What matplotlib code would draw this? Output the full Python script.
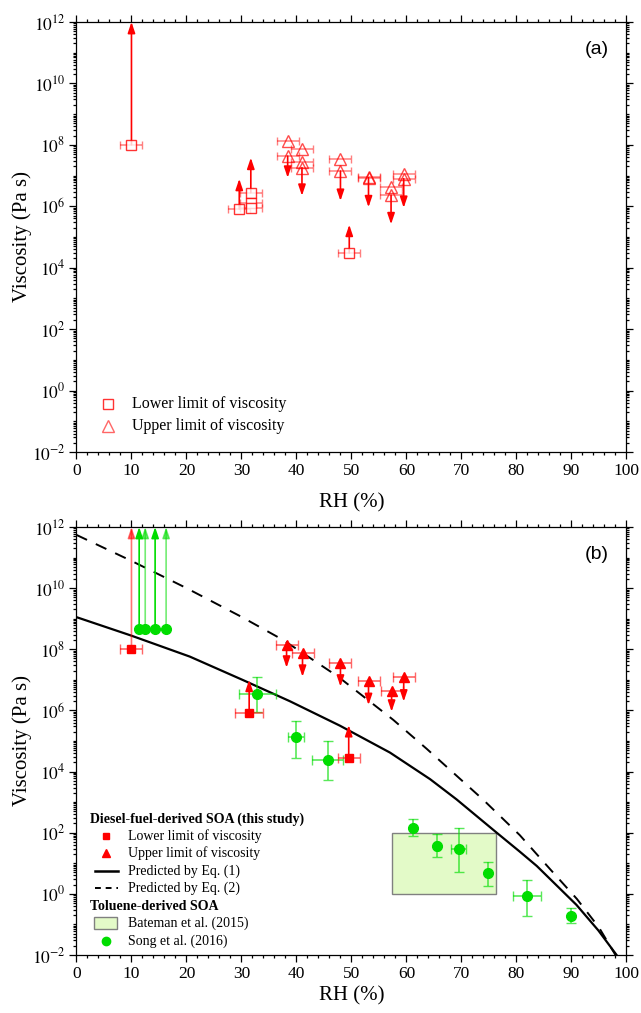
"""
Viscosity of diesel-fuel-derived SOA versus RH, two stacked panels.
"""

import numpy as np
import matplotlib
matplotlib.use("Agg")
import matplotlib.pyplot as plt
from matplotlib.ticker import FixedLocator, FuncFormatter
from matplotlib.patches import Rectangle
from matplotlib.lines import Line2D

plt.rcParams["font.family"] = ["Liberation Serif", "DejaVu Serif"]
plt.rcParams["mathtext.fontset"] = "stix"

RED = "#ff0000"
GREEN = "#00dd00"

# ---- panel (a) ----
a_low_rh = [10.0, 29.6, 31.7, 31.7, 31.7, 49.6]
a_low_v = [1.0e8, 8.1e5, 2.75e6, 1.3e6, 8.5e5, 3.0e4]
a_low_xerr = [2.0, 2.0, 2.0, 2.0, 2.0, 2.0]
a_low_arrow_rh = [10.0, 29.6, 31.7, 49.6]
a_low_arrow_from = [1.0e8, 8.1e5, 2.75e6, 3.0e4]
a_low_arrow_to = [1.0e12, 7.8e6, 3.8e7, 2.5e5]

a_up_rh = [38.4, 38.4, 41.0, 41.0, 41.0, 48.0, 48.0, 53.1, 53.1, 57.2, 57.2, 59.5, 59.5]
a_up_v = [1.35e8, 4.3e7, 7.1e7, 2.8e7, 1.8e7, 3.5e7, 1.4e7, 9.1e6, 8.5e6,
          4.4e6, 2.3e6, 1.1e7, 7.9e6]
a_up_xerr = [2.0] * 13
a_up_arrow_rh = [38.4, 41.0, 48.0, 53.1, 57.2, 59.5]
a_up_arrow_from = [4.3e7, 1.8e7, 1.4e7, 8.5e6, 2.3e6, 7.9e6]
a_up_arrow_to = [8.5e6, 2.2e6, 1.5e6, 9.3e5, 2.6e5, 8.9e5]

# ---- panel (b) ----
b_low_rh = [10.0, 31.4, 49.5]
b_low_v = [1.0e8, 8.5e5, 2.7e4]
b_low_xerr = [2.0, 2.5, 2.0]
b_low_arrow_to = [1.0e12, 1.0e7, 3.3e5]

b_up_rh = [38.2, 41.1, 48.0, 53.1, 57.3, 59.5]
b_up_v = [1.38e8, 7.4e7, 3.6e7, 9.3e6, 4.4e6, 1.2e7]
b_up_xerr = [2.0, 2.0, 2.0, 2.0, 2.0, 2.0]
b_up_arrow_to = [2.5e7, 1.26e7, 6.0e6, 1.5e6, 9.1e5, 1.95e6]

song_arrow_rh = [11.4, 12.5, 14.3, 16.3]
song_arrow_v = [4.5e8, 4.5e8, 4.5e8, 4.5e8]
song_arrow_to = [1.0e12, 1.0e12, 1.0e12, 1.0e12]
song_arrow_alpha = [1.0, 0.55, 1.0, 0.55]

song_rh = [32.9, 39.9, 45.7, 61.2, 65.5, 69.5, 74.9, 81.9, 90.0]
song_v = [3.5e6, 1.3e5, 2.4e4, 138, 36, 29, 4.9, 0.85, 0.195]
song_lo = [8.9e5, 2.7e4, 5.2e3, 78, 16, 5.2, 1.8, 0.19, 0.115]
song_hi = [1.2e7, 4.5e5, 1.0e5, 280, 89, 138, 11, 2.8, 0.34]
song_xerr = [3.4, 1.4, 2.8, 0.0, 0.4, 1.4, 0.0, 2.5, 0.0]

bateman_rh = [57.3, 76.3]
bateman_v = [1.0, 100.0]

# curves (log10 of viscosity)
eq1_rh = [0, 9.9, 20.6, 30.3, 38.8, 47.9, 57.0, 64.3, 69.1, 76.4, 80.6, 83.7,
          90.9, 94.9, 98.2]
eq1_logv = [9.05, 8.45, 7.76, 6.99, 6.30, 5.50, 4.62, 3.75, 3.09, 2.0, 1.38, 0.91,
            -0.36, -1.20, -2.0]
eq2_rh = [0, 10, 20, 30, 37.6, 47.6, 57.6, 63.7, 74.0, 80.6, 85.5, 91.0, 95.0, 98.0]
eq2_logv = [11.74, 10.89, 10.0, 9.06, 8.30, 7.10, 5.69, 4.74, 3.07, 1.92, 0.93,
            -0.17, -1.1, -2.0]


def arrow(ax, x, y0, y1, color, alpha=1.0):
    ax.annotate("", xy=(x, y1), xytext=(x, y0),
                arrowprops=dict(arrowstyle="-|>,head_length=0.65,head_width=0.22",
                                color=color, lw=1.2, alpha=alpha,
                                shrinkA=0, shrinkB=0), annotation_clip=False)


def style_axes(ax, label, xpad):
    ax.set_yscale("log")
    ax.set_xlim(0, 100)
    ax.set_ylim(1e-2, 1e12)
    ax.set_xticks(np.arange(0, 101, 10))
    ax.set_xticks(np.arange(0, 101, 2), minor=True)
    ax.yaxis.set_major_locator(FixedLocator([10.0 ** k for k in range(-2, 13, 2)]))
    minors = [j * 10.0 ** k for k in range(-2, 12) for j in range(1, 10)]
    ax.yaxis.set_minor_locator(FixedLocator(minors))
    ax.yaxis.set_major_formatter(
        FuncFormatter(lambda v, p: r"$10^{\mathrm{%s}}$" % str(int(round(np.log10(v))))))
    ax.yaxis.set_minor_formatter(FuncFormatter(lambda v, p: ""))
    ax.tick_params(which="both", direction="out", top=True, right=True,
                   labelsize=12.5, width=0.9)
    ax.tick_params(which="major", length=5, pad=3)
    ax.tick_params(which="minor", length=2.5)
    for s in ax.spines.values():
        s.set_linewidth(0.9)
    ax.set_xlabel("RH (%)", fontsize=15, labelpad=xpad)
    ax.set_ylabel("Viscosity (Pa s)", fontsize=15, labelpad=0)
    ax.text(0.946, 0.935, label, transform=ax.transAxes, ha="center", va="center",
            fontsize=14, family=["Liberation Sans", "DejaVu Sans"])


fig = plt.figure(figsize=(6.41, 10.13), dpi=100)
ax1 = fig.add_axes([0.1193, 0.5538, 0.858, 0.4245])
ax2 = fig.add_axes([0.1193, 0.0573, 0.858, 0.4225])

# panel (a)
ax1.errorbar(a_low_rh, a_low_v, xerr=a_low_xerr, fmt="none", ecolor=RED,
             alpha=0.5, elinewidth=1.1, capsize=3)
ax1.errorbar(a_up_rh, a_up_v, xerr=a_up_xerr, fmt="none", ecolor=RED,
             alpha=0.5, elinewidth=1.1, capsize=3)
for x, y0, y1 in zip(a_low_arrow_rh, a_low_arrow_from, a_low_arrow_to):
    arrow(ax1, x, y0, y1, RED)
for x, y0, y1 in zip(a_up_arrow_rh, a_up_arrow_from, a_up_arrow_to):
    arrow(ax1, x, y0, y1, RED)
ax1.plot(a_low_rh, a_low_v, "s", ms=6.5, mfc="white", mec=RED, mew=1.0,
         alpha=0.8, zorder=3)
ax1.plot(a_up_rh, a_up_v, "^", ms=9, mfc="none", mec=RED, mew=1.0,
         alpha=0.7, zorder=3)
style_axes(ax1, "(a)", 10)

tr = ax1.transAxes
ax1.plot([0.0567], [0.111], "s", ms=6.5, mfc="none", mec=RED, mew=1.0,
         alpha=0.8, transform=tr, clip_on=False)
ax1.plot([0.0567], [0.0605], "^", ms=9, mfc="none", mec=RED, mew=1.0,
         alpha=0.6, transform=tr, clip_on=False)
ax1.text(0.101, 0.111, "Lower limit of viscosity", transform=tr, va="center",
         fontsize=11.5)
ax1.text(0.101, 0.0605, "Upper limit of viscosity", transform=tr, va="center",
         fontsize=11.5)

# panel (b)
ax2.add_patch(Rectangle((bateman_rh[0], bateman_v[0]),
                        bateman_rh[1] - bateman_rh[0],
                        bateman_v[1] - bateman_v[0],
                        facecolor="#e3fac8", edgecolor="#808080", lw=1.0, zorder=1))
ax2.plot(eq1_rh, 10.0 ** np.array(eq1_logv), "-", color="black", lw=1.6, zorder=2)
ax2.plot(eq2_rh, 10.0 ** np.array(eq2_logv), "--", color="black", lw=1.4,
         dashes=(6, 5), zorder=2)

song_lo_err = np.array(song_v) - np.array(song_lo)
song_hi_err = np.array(song_hi) - np.array(song_v)
ax2.errorbar(song_rh, song_v, xerr=song_xerr, yerr=[song_lo_err, song_hi_err],
             fmt="none", ecolor=GREEN, alpha=0.65, elinewidth=1.2, capsize=3.5,
             zorder=3)
for x, y0, y1, a in zip(song_arrow_rh, song_arrow_v, song_arrow_to, song_arrow_alpha):
    arrow(ax2, x, y0, y1, GREEN, alpha=a)
ax2.errorbar(b_low_rh, b_low_v, xerr=b_low_xerr, fmt="none", ecolor=RED,
             alpha=0.6, elinewidth=1.2, capsize=3.5, zorder=3)
ax2.errorbar(b_up_rh, b_up_v, xerr=b_up_xerr, fmt="none", ecolor=RED,
             alpha=0.6, elinewidth=1.2, capsize=3.5, zorder=3)
for x, y0, y1 in zip(b_low_rh, b_low_v, b_low_arrow_to):
    arrow(ax2, x, y0, y1, RED, alpha=0.55 if y1 >= 1e12 else 1.0)
for x, y0, y1 in zip(b_up_rh, b_up_v, b_up_arrow_to):
    arrow(ax2, x, y0, y1, RED)
ax2.plot(song_rh, song_v, "o", ms=7, color=GREEN, zorder=4)
ax2.plot(song_arrow_rh, song_arrow_v, "o", ms=7, color=GREEN, zorder=4)
ax2.plot(b_low_rh, b_low_v, "s", ms=5.5, color=RED, zorder=4)
ax2.plot(b_up_rh, b_up_v, "^", ms=7, color=RED, zorder=4)
style_axes(ax2, "(b)", 3)

tr = ax2.transAxes
mx = 0.0536
rows = [0.318, 0.278, 0.238, 0.196, 0.157, 0.114, 0.075, 0.033]
ax2.text(0.0245, rows[0], "Diesel-fuel-derived SOA (this study)", transform=tr,
         va="center", fontsize=10, fontweight="bold")
ax2.plot([mx], [rows[1]], "s", ms=5, color=RED, transform=tr, clip_on=False)
ax2.plot([mx], [rows[2]], "^", ms=6, color=RED, transform=tr, clip_on=False)
ax2.add_line(Line2D([0.034, 0.075], [rows[3], rows[3]], color="black", lw=1.8,
                    transform=tr))
ax2.add_line(Line2D([0.034, 0.075], [rows[4], rows[4]], color="black", lw=1.4,
                    ls=(0, (3, 2.5)), transform=tr))
ax2.text(0.0245, rows[5], "Toluene-derived SOA", transform=tr, va="center",
         fontsize=10, fontweight="bold")
ax2.add_patch(Rectangle((0.0318, rows[6] - 0.0135), 0.0424, 0.027, transform=tr,
                        facecolor="#e3fac8", edgecolor="#808080", lw=1.0))
ax2.plot([mx], [rows[7]], "o", ms=6, color=GREEN, transform=tr, clip_on=False)
labels = ["Lower limit of viscosity", "Upper limit of viscosity",
          "Predicted by Eq. (1)", "Predicted by Eq. (2)", None,
          "Bateman et al. (2015)", "Song et al. (2016)"]
for r, t in zip(rows[1:], labels):
    if t:
        ax2.text(0.094, r, t, transform=tr, va="center", fontsize=10)

fig.savefig("out.png", dpi=100)
